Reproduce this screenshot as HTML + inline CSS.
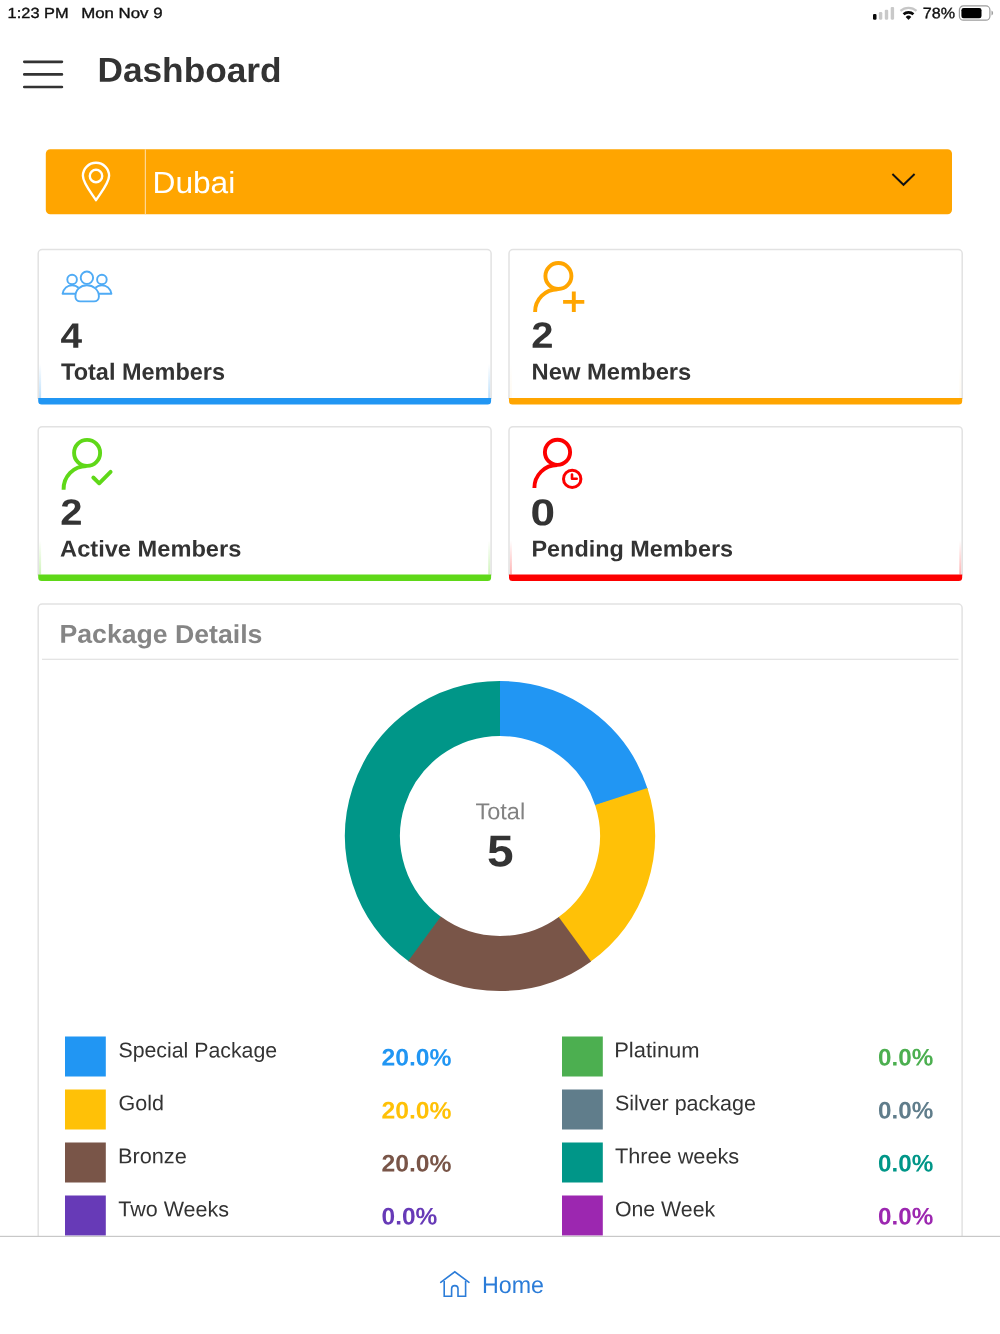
<!DOCTYPE html>
<html><head><meta charset="utf-8"><title>Dashboard</title>
<style>
*{box-sizing:border-box;margin:0;padding:0}
html,body{width:1000px;height:1334px;overflow:hidden;background:#fff}
body{font-family:"Liberation Sans",sans-serif;color:#333;position:relative}
.abs{position:absolute}
svg text{font-family:"Liberation Sans",sans-serif;white-space:pre}
</style></head><body>
<svg class="abs" style="left:0;top:0" width="1000" height="1334" viewBox="0 0 1000 1334" fill="none">
<rect x="45.8" y="149.3" width="906.2" height="65" rx="4.5" fill="#ffa500"/><rect x="144.8" y="149.3" width="1.1" height="65" fill="#ffdca0"/>
<defs><linearGradient id="g1" x1="0" y1="0" x2="0" y2="1"><stop offset="0" stop-color="#2196f3" stop-opacity="0"/><stop offset="1" stop-color="#2196f3" stop-opacity="0.3"/></linearGradient></defs>
<rect x="38.9" y="364" width="2.2" height="34" fill="url(#g1)"/><rect x="488.2" y="364" width="2.2" height="34" fill="url(#g1)"/>
<path d="M38.2 399 V253.6 A4 4 0 0 1 42.2 249.6 H487.1 A4 4 0 0 1 491.1 253.6 V399" stroke="#e2e2e2" stroke-width="1.5"/>
<path d="M38.2 398 H491.1 V401.0 A3.5 3.5 0 0 1 487.6 404.5 H41.7 A3.5 3.5 0 0 1 38.2 401.0Z" fill="#2196f3"/>
<defs><linearGradient id="g2" x1="0" y1="0" x2="0" y2="1"><stop offset="0" stop-color="#ffa500" stop-opacity="0"/><stop offset="1" stop-color="#ffa500" stop-opacity="0.06"/></linearGradient></defs>
<rect x="509.7" y="364" width="2.2" height="34" fill="url(#g2)"/><rect x="959.3" y="364" width="2.2" height="34" fill="url(#g2)"/>
<path d="M509.0 399 V253.6 A4 4 0 0 1 513.0 249.6 H958.2 A4 4 0 0 1 962.2 253.6 V399" stroke="#e2e2e2" stroke-width="1.5"/>
<path d="M509.0 398 H962.2 V401.0 A3.5 3.5 0 0 1 958.7 404.5 H512.5 A3.5 3.5 0 0 1 509.0 401.0Z" fill="#ffa500"/>
<defs><linearGradient id="g3" x1="0" y1="0" x2="0" y2="1"><stop offset="0" stop-color="#5fd818" stop-opacity="0"/><stop offset="1" stop-color="#5fd818" stop-opacity="0.3"/></linearGradient></defs>
<rect x="38.9" y="540.5" width="2.2" height="34" fill="url(#g3)"/><rect x="488.2" y="540.5" width="2.2" height="34" fill="url(#g3)"/>
<path d="M38.2 575.5 V430.7 A4 4 0 0 1 42.2 426.7 H487.1 A4 4 0 0 1 491.1 430.7 V575.5" stroke="#e2e2e2" stroke-width="1.5"/>
<path d="M38.2 574.5 H491.1 V577.5 A3.5 3.5 0 0 1 487.6 581 H41.7 A3.5 3.5 0 0 1 38.2 577.5Z" fill="#5fd818"/>
<defs><linearGradient id="g4" x1="0" y1="0" x2="0" y2="1"><stop offset="0" stop-color="#fc0000" stop-opacity="0"/><stop offset="1" stop-color="#fc0000" stop-opacity="0.3"/></linearGradient></defs>
<rect x="509.7" y="540.5" width="2.2" height="34" fill="url(#g4)"/><rect x="959.3" y="540.5" width="2.2" height="34" fill="url(#g4)"/>
<path d="M509.0 575.5 V430.7 A4 4 0 0 1 513.0 426.7 H958.2 A4 4 0 0 1 962.2 430.7 V575.5" stroke="#e2e2e2" stroke-width="1.5"/>
<path d="M509.0 574.5 H962.2 V577.5 A3.5 3.5 0 0 1 958.7 581 H512.5 A3.5 3.5 0 0 1 509.0 577.5Z" fill="#fc0000"/>
<path d="M38.2 1250 V608 A4 4 0 0 1 42.2 604 H958.1 A4 4 0 0 1 962.1 608 V1250" stroke="#e2e2e2" stroke-width="1.5"/><rect x="42" y="658.7" width="916.5" height="1.2" fill="#e2e2e2"/>
<path d="M425.06 939.15 A127.5 127.5 0 0 1 500.00 708.50" stroke="#009688" stroke-width="55"/>
<path d="M500.00 708.50 A127.5 127.5 0 0 1 621.46 797.24" stroke="#2196f3" stroke-width="55"/>
<path d="M621.26 796.60 A127.5 127.5 0 0 1 574.40 939.54" stroke="#ffc107" stroke-width="55"/>
<path d="M574.94 939.15 A127.5 127.5 0 0 1 424.52 938.76" stroke="#795548" stroke-width="55"/>
<rect x="65" y="1036.5" width="40.8" height="40" fill="#2196f3"/><rect x="562" y="1036.5" width="40.8" height="40" fill="#4caf50"/>
<rect x="65" y="1089.5" width="40.8" height="40" fill="#ffc107"/><rect x="562" y="1089.5" width="40.8" height="40" fill="#607d8b"/>
<rect x="65" y="1142.5" width="40.8" height="40" fill="#795548"/><rect x="562" y="1142.5" width="40.8" height="40" fill="#009688"/>
<rect x="65" y="1195.5" width="40.8" height="40" fill="#673ab7"/><rect x="562" y="1195.5" width="40.8" height="40" fill="#9c27b0"/>
<rect x="0" y="1236" width="1000" height="98" fill="#fff"/><rect x="0" y="1235.8" width="1000" height="1.2" fill="#c8c8c8"/>
<!-- hamburger -->
<path d="M24.3 61.8 H61.9 M24.3 74.4 H61.9 M24.3 87 H61.9" stroke="#333" stroke-width="2.7" stroke-linecap="round"/>
<!-- pin -->
<g stroke="#fff" stroke-width="2.4" stroke-linejoin="round">
<path d="M96 200.2 C91 192.5 82.9 183 82.9 175.8 A13.1 13.1 0 0 1 109.1 175.8 C109.1 183 101 192.5 96 200.2Z"/>
<circle cx="96" cy="176" r="6.2"/>
</g>
<!-- chevron -->
<path d="M892.4 174 L903.5 184.8 L914.6 174" stroke="#111" stroke-width="1.9"/>
<!-- group -->
<g stroke="#4fabf5" stroke-width="1.9" stroke-linejoin="round">
<circle cx="72.1" cy="279.5" r="4.8"/>
<circle cx="101.9" cy="279.5" r="4.8"/>
<circle cx="86.9" cy="277.7" r="6.2"/>
<path d="M76 293.8 H62.6 C63.6 288.5 67.5 285.2 72.1 285.2 C74.6 285.2 76.9 286.2 78.6 287.8"/>
<path d="M98 293.8 H111.4 C110.4 288.5 106.5 285.2 101.9 285.2 C99.4 285.2 97.1 286.2 95.4 287.8"/>
<path d="M75.4 296.5 C75.4 290 80.5 285.2 86.9 285.2 C93.3 285.2 98.9 290 98.9 296.5 C98.9 299.5 96.8 301.4 94 301.4 H80.3 C77.5 301.4 75.4 299.5 75.4 296.5Z"/>
</g>
<!-- new member -->
<g stroke="#ffa500" stroke-width="3.9">
<circle cx="558.4" cy="276" r="13"/>
<path d="M535.1 312 A22.6 22.6 0 0 1 557.7 289.2"/>
<path d="M563.1 301.9 H584.3 M573.8 291.4 V312"/>
</g>
<!-- active member -->
<g stroke="#5fd818" stroke-width="3.9">
<circle cx="87.1" cy="452.9" r="13"/>
<path d="M63.6 489.7 A23 23 0 0 1 86.6 466"/>
<path d="M93.3 477.5 L99.2 483.3 L110.6 471.9" stroke-linecap="round" stroke-linejoin="round"/>
</g>
<!-- pending member -->
<g stroke="#fc0000" stroke-width="3.9">
<circle cx="557.5" cy="452.3" r="12.6"/>
<path d="M534.4 488 A22.8 22.8 0 0 1 557.2 465"/>
<circle cx="572.2" cy="478.9" r="8.7" stroke-width="3"/>
<path d="M572 474.6 V478.8 H576.7" stroke-width="2.6" stroke-linecap="round" stroke-linejoin="round"/>
</g>
<!-- home -->
<g stroke="#2b7cd8" stroke-width="1.6" stroke-linejoin="miter">
<path d="M440.7 1282.3 L454.8 1271.8 L469 1282.3" stroke-linecap="round"/>
<path d="M444.2 1281 V1296.3 H451.6 V1288.8 A3.2 3.2 0 0 1 458 1288.8 V1296.3 H465.6 V1281"/>
</g>
<!-- status icons -->
<g>
<rect x="873" y="13.9" width="3.5" height="5.8" rx="1.2" fill="#0a0a0a"/>
<rect x="878.9" y="12.1" width="3.4" height="7.6" rx="1.1" fill="#c9c9c9"/>
<rect x="884.8" y="9.7" width="3.4" height="10" rx="1.1" fill="#c9c9c9"/>
<rect x="890.7" y="7" width="3.4" height="12.7" rx="1.1" fill="#c9c9c9"/>
<path d="M900.47 10.88 A12 12 0 0 1 916.53 10.88" stroke="#c6c6c6" stroke-width="2.2"/>
<path d="M903.55 14.3 A7.4 7.4 0 0 1 913.45 14.3" stroke="#0a0a0a" stroke-width="2.7"/>
<path d="M905.7 16.9 A4.1 4.1 0 0 1 911.3 16.9 L908.9 19.6 Q908.5 20 908.1 19.6 Z" fill="#0a0a0a"/>
<rect x="959.4" y="5.95" width="30.5" height="14.2" rx="4" stroke="#9c9c9c" stroke-width="1.2"/>
<rect x="961.4" y="7.95" width="20.1" height="10.2" rx="2.2" fill="#000"/>
<path d="M991.5 10.4 A2.9 2.9 0 0 1 991.5 15.6Z" fill="#9c9c9c"/>
</g>
<text transform="translate(7.61 17.95) rotate(0.03) scale(1.12 1)" font-size="14.64" font-weight="400" fill="#111" stroke="#111" stroke-width="0.35">1:23 PM</text>
<text transform="translate(81.21 17.95) rotate(0.03) scale(1.15 1)" font-size="14.64" font-weight="400" fill="#111" stroke="#111" stroke-width="0.35">Mon Nov 9</text>
<text transform="translate(922.78 18.15) rotate(0.03) scale(1.06 1)" font-size="15.21" font-weight="400" fill="#111" stroke="#111" stroke-width="0.35">78%</text>
<text transform="translate(97.42 81.85) rotate(0.03) scale(1.02 1)" font-size="34.59" font-weight="700" fill="#333">Dashboard</text>
<text transform="translate(152.5 193.05) rotate(0.03) scale(1.04 1)" font-size="30.48" font-weight="400" fill="#fff">Dubai</text>
<text transform="translate(60.53 347.85) rotate(0.03) scale(1.1 1)" font-size="35.3" font-weight="700" fill="#333">4</text>
<text transform="translate(61.05 379.65) rotate(0.03) scale(1.0 1)" font-size="23.49" font-weight="700" fill="#333">Total Members</text>
<text transform="translate(531.15 347.85) rotate(0.03) scale(1.09 1)" font-size="36.7" font-weight="700" fill="#333">2</text>
<text transform="translate(531.61 379.55) rotate(0.03) scale(1.03 1)" font-size="23.08" font-weight="700" fill="#333">New Members</text>
<text transform="translate(60.15 524.85) rotate(0.03) scale(1.09 1)" font-size="36.7" font-weight="700" fill="#333">2</text>
<text transform="translate(60.1 556.45) rotate(0.03) scale(1.03 1)" font-size="22.95" font-weight="700" fill="#333">Active Members</text>
<text transform="translate(530.47 525.25) rotate(0.03) scale(1.18 1)" font-size="37.4" font-weight="700" fill="#333">0</text>
<text transform="translate(531.47 556.45) rotate(0.03) scale(1.02 1)" font-size="22.95" font-weight="700" fill="#333">Pending Members</text>
<text transform="translate(59.47 642.85) rotate(0.03) scale(1.03 1)" font-size="25.89" font-weight="700" fill="#858585">Package Details</text>
<text transform="translate(475.45 819.15) rotate(0.03) scale(1.02 1)" font-size="23.08" font-weight="400" fill="#828282">Total</text>
<text transform="translate(487.01 866.25) rotate(0.03) scale(1.08 1)" font-size="44.28" font-weight="700" fill="#333">5</text>
<text transform="translate(481.95 1293.05) rotate(0.03) scale(0.98 1)" font-size="23.7" font-weight="400" fill="#2b7cd8">Home</text>
<text transform="translate(118.43 1057.35) rotate(0.03) scale(1.0 1)" font-size="21.3" font-weight="400" fill="#333">Special Package</text>
<text transform="translate(614.23 1057.35) rotate(0.03) scale(1.03 1)" font-size="21.3" font-weight="400" fill="#333">Platinum</text>
<text transform="translate(381.5 1065.6) rotate(0.03) scale(1.03 1)" font-size="24.0" font-weight="700" fill="#2196f3">20.0%</text>
<text transform="translate(878.11 1065.6) rotate(0.03) scale(1.01 1)" font-size="24.0" font-weight="700" fill="#4caf50">0.0%</text>
<text transform="translate(118.45 1110.35) rotate(0.03) scale(1.01 1)" font-size="21.3" font-weight="400" fill="#333">Gold</text>
<text transform="translate(614.93 1110.35) rotate(0.03) scale(1.01 1)" font-size="21.3" font-weight="400" fill="#333">Silver package</text>
<text transform="translate(381.5 1118.6) rotate(0.03) scale(1.03 1)" font-size="24.0" font-weight="700" fill="#ffc107">20.0%</text>
<text transform="translate(878.11 1118.6) rotate(0.03) scale(1.01 1)" font-size="24.0" font-weight="700" fill="#607d8b">0.0%</text>
<text transform="translate(117.97 1163.35) rotate(0.03) scale(1.02 1)" font-size="21.3" font-weight="400" fill="#333">Bronze</text>
<text transform="translate(614.92 1163.35) rotate(0.03) scale(1.02 1)" font-size="21.3" font-weight="400" fill="#333">Three weeks</text>
<text transform="translate(381.5 1171.6) rotate(0.03) scale(1.03 1)" font-size="24.0" font-weight="700" fill="#795548">20.0%</text>
<text transform="translate(878.11 1171.6) rotate(0.03) scale(1.01 1)" font-size="24.0" font-weight="700" fill="#009688">0.0%</text>
<text transform="translate(118.23 1216.35) rotate(0.03) scale(1.01 1)" font-size="21.3" font-weight="400" fill="#333">Two Weeks</text>
<text transform="translate(614.92 1216.35) rotate(0.03) scale(1.0 1)" font-size="21.3" font-weight="400" fill="#333">One Week</text>
<text transform="translate(381.54 1224.6) rotate(0.03) scale(1.02 1)" font-size="24.0" font-weight="700" fill="#673ab7">0.0%</text>
<text transform="translate(878.11 1224.6) rotate(0.03) scale(1.01 1)" font-size="24.0" font-weight="700" fill="#9c27b0">0.0%</text>
</svg>
</body></html>
